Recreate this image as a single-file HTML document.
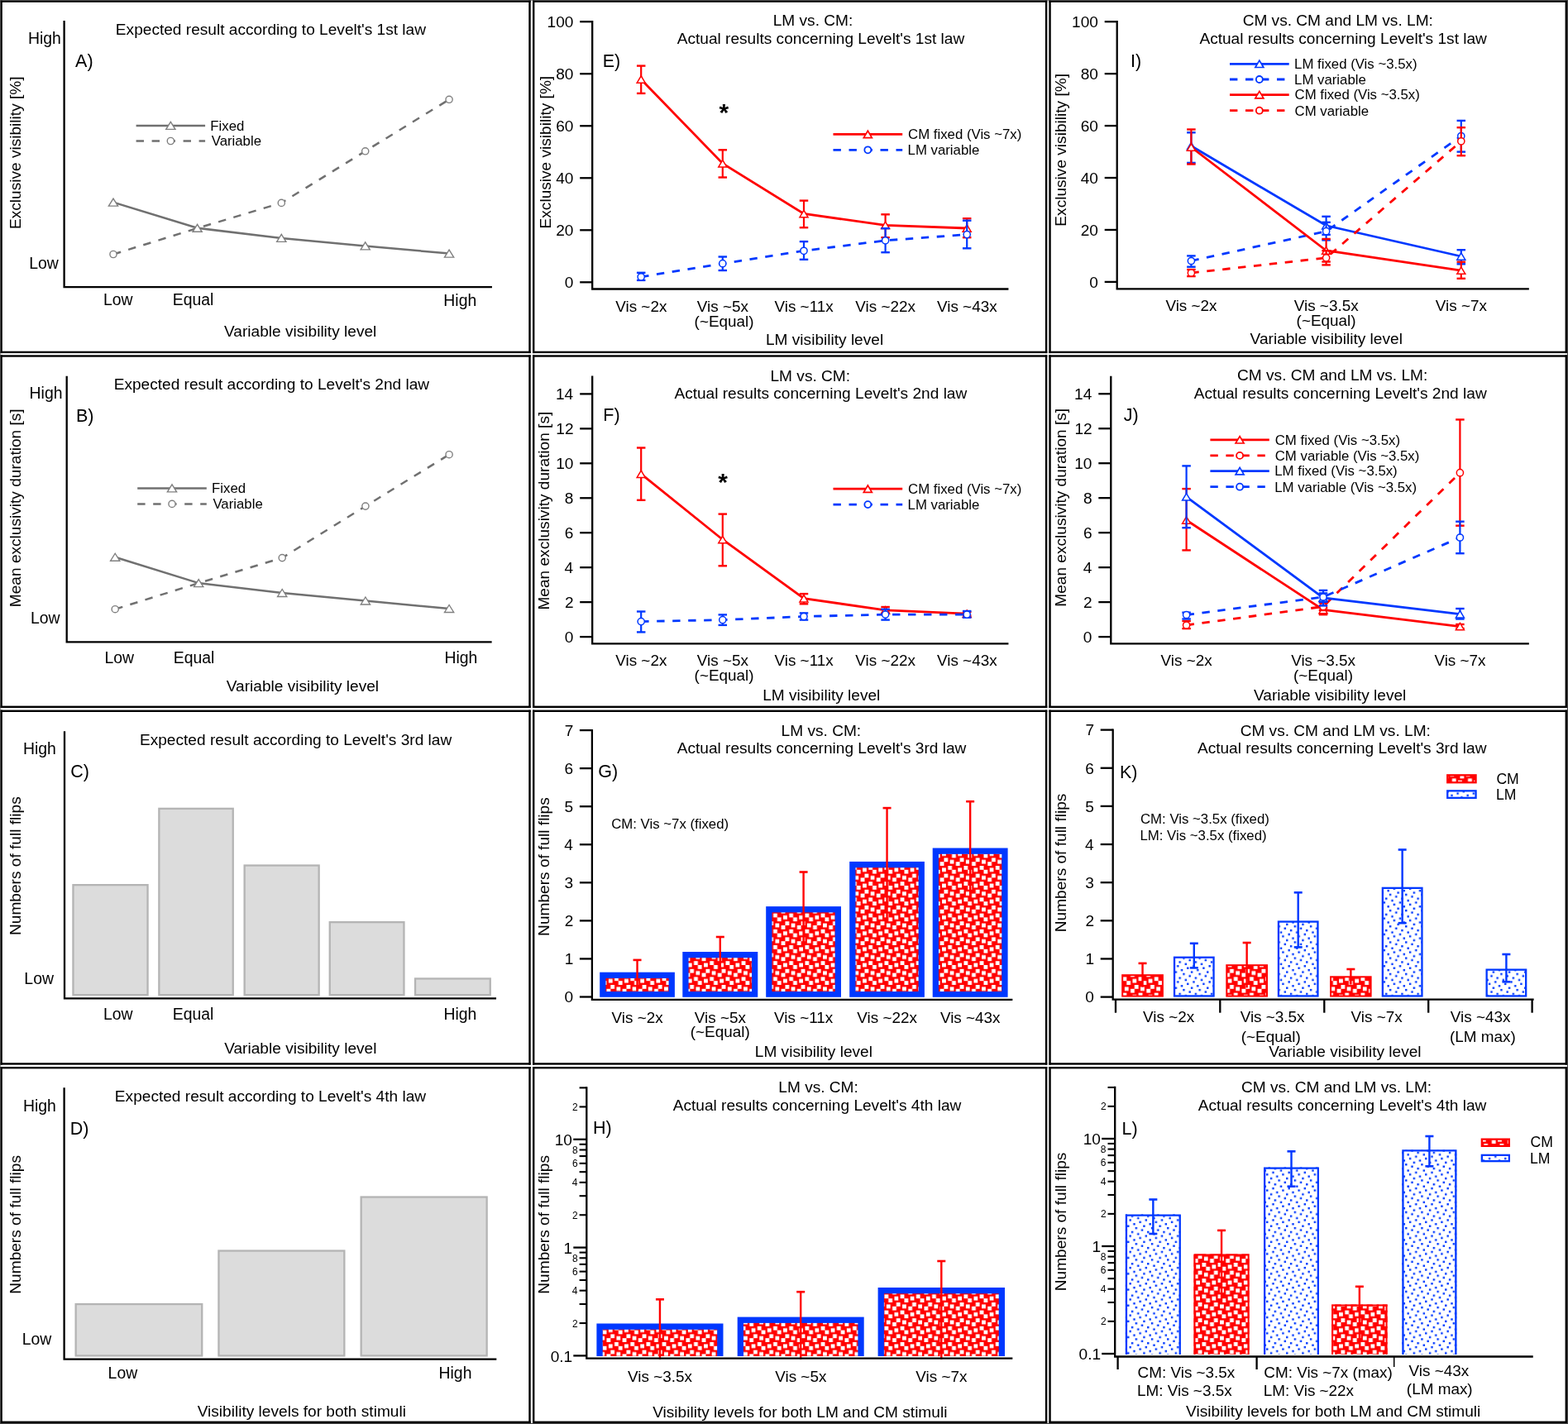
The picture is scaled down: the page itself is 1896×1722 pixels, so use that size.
<!DOCTYPE html>
<html><head><meta charset="utf-8"><title>Levelt laws figure</title><style>html,body{margin:0;padding:0;background:#fff;overflow:hidden}svg{display:block}</style></head><body>
<svg xmlns="http://www.w3.org/2000/svg" width="1896" height="1722" viewBox="0 0 1896 1722" font-family="'Liberation Sans', Arial, Helvetica, sans-serif"><rect width="1896" height="1722" fill="#fff"/>
<defs><pattern id="pr" patternUnits="userSpaceOnUse" x="846.26" y="1162.2" width="19.20" height="19.20"><rect width="19.20" height="19.20" fill="#ff0000"/><rect x="4.80" y="2.40" width="4.80" height="4.80" fill="#fff"/><rect x="12.00" y="0.00" width="4.80" height="4.80" fill="#fff"/><rect x="16.80" y="4.80" width="4.80" height="4.80" fill="#fff"/><rect x="-2.40" y="4.80" width="4.80" height="4.80" fill="#fff"/><rect x="7.20" y="9.60" width="4.80" height="4.80" fill="#fff"/><rect x="14.40" y="12.00" width="4.80" height="4.80" fill="#fff"/><rect x="2.40" y="14.40" width="4.80" height="4.80" fill="#fff"/></pattern><pattern id="pb" patternUnits="userSpaceOnUse" x="1430.27" y="1157.50" width="19.20" height="19.20"><rect width="19.20" height="19.20" fill="#fff"/><rect x="0.00" y="0.00" width="2.40" height="2.40" fill="#0038ff"/><rect x="7.20" y="2.40" width="2.40" height="2.40" fill="#0038ff"/><rect x="14.40" y="4.80" width="2.40" height="2.40" fill="#0038ff"/><rect x="2.40" y="7.20" width="2.40" height="2.40" fill="#0038ff"/><rect x="12.00" y="9.60" width="2.40" height="2.40" fill="#0038ff"/><rect x="4.80" y="12.00" width="2.40" height="2.40" fill="#0038ff"/><rect x="16.80" y="14.40" width="2.40" height="2.40" fill="#0038ff"/><rect x="-2.40" y="14.40" width="2.40" height="2.40" fill="#0038ff"/><rect x="9.60" y="16.80" width="2.40" height="2.40" fill="#0038ff"/><rect x="9.60" y="-2.40" width="2.40" height="2.40" fill="#0038ff"/></pattern></defs>
<polyline points="77.60,26.20 77.60,347.20 593.80,347.20" fill="none" stroke="#000" stroke-width="2.30" stroke-linejoin="miter" stroke-linecap="square"/>
<text x="139.87" y="41.90" font-size="19.10">Expected result according to Levelt's 1st law</text>
<text x="91.10" y="81.00" font-size="21.50">A)</text>
<text x="33.89" y="53.20" font-size="19.40">High</text>
<text x="35.26" y="324.70" font-size="19.40">Low</text>
<text transform="translate(25.00 184.60) rotate(-90)" x="-92.45" y="0" font-size="19.10">Exclusive visibility [%]</text>
<polyline points="137.00,307.50 238.60,276.00 340.30,245.40 441.70,182.80 543.10,120.30" fill="none" stroke="#707070" stroke-width="2.50" stroke-dasharray="9.5 9.5"/>
<polyline points="137.00,244.60 238.60,275.80 340.30,287.90 441.70,297.40 543.10,306.60" fill="none" stroke="#707070" stroke-width="2.50"/>
<circle cx="137.00" cy="307.50" r="4.10" fill="#fff" stroke="#808080" stroke-width="1.40"/>
<circle cx="340.30" cy="245.40" r="4.10" fill="#fff" stroke="#808080" stroke-width="1.40"/>
<circle cx="441.70" cy="182.80" r="4.10" fill="#fff" stroke="#808080" stroke-width="1.40"/>
<circle cx="543.10" cy="120.30" r="4.10" fill="#fff" stroke="#808080" stroke-width="1.40"/>
<polygon points="131.40,249.10 142.60,249.10 137.00,240.10" fill="#fff" stroke="#808080" stroke-width="1.40" stroke-linejoin="miter"/>
<polygon points="233.00,280.30 244.20,280.30 238.60,271.30" fill="#fff" stroke="#808080" stroke-width="1.40" stroke-linejoin="miter"/>
<polygon points="334.70,292.40 345.90,292.40 340.30,283.40" fill="#fff" stroke="#808080" stroke-width="1.40" stroke-linejoin="miter"/>
<polygon points="436.10,301.90 447.30,301.90 441.70,292.90" fill="#fff" stroke="#808080" stroke-width="1.40" stroke-linejoin="miter"/>
<polygon points="537.50,311.10 548.70,311.10 543.10,302.10" fill="#fff" stroke="#808080" stroke-width="1.40" stroke-linejoin="miter"/>
<line x1="164.60" y1="151.90" x2="248.10" y2="151.90" stroke="#707070" stroke-width="2.50"/>
<line x1="164.60" y1="170.50" x2="248.10" y2="170.50" stroke="#707070" stroke-width="2.50" stroke-dasharray="9.4 9.6"/>
<polygon points="200.75,156.40 211.95,156.40 206.35,147.40" fill="#fff" stroke="#808080" stroke-width="1.40" stroke-linejoin="miter"/>
<circle cx="206.35" cy="170.50" r="4.10" fill="#fff" stroke="#808080" stroke-width="1.40"/>
<text x="254.36" y="157.70" font-size="16.80">Fixed</text>
<text x="255.70" y="176.30" font-size="16.80">Variable</text>
<text x="124.90" y="369.40" font-size="19.40">Low</text>
<text x="208.72" y="369.40" font-size="19.40">Equal</text>
<text x="536.37" y="369.80" font-size="19.40">High</text>
<text x="271.00" y="406.60" font-size="19.10">Variable visibility level</text>
<polyline points="80.70,455.80 80.70,776.30 593.50,776.30" fill="none" stroke="#000" stroke-width="2.30" stroke-linejoin="miter" stroke-linecap="square"/>
<text x="137.67" y="471.00" font-size="19.10">Expected result according to Levelt's 2nd law</text>
<text x="91.98" y="509.90" font-size="21.50">B)</text>
<text x="35.59" y="482.00" font-size="19.40">High</text>
<text x="36.96" y="753.50" font-size="19.40">Low</text>
<text transform="translate(25.00 614.10) rotate(-90)" x="-120.07" y="0" font-size="19.10">Mean exclusivity duration [s]</text>
<polyline points="139.20,736.70 240.20,705.10 341.20,674.60 441.90,612.10 543.10,549.70" fill="none" stroke="#707070" stroke-width="2.50" stroke-dasharray="9.5 9.5"/>
<polyline points="139.20,673.70 240.20,705.10 341.20,717.00 441.90,726.50 543.10,736.00" fill="none" stroke="#707070" stroke-width="2.50"/>
<circle cx="139.20" cy="736.70" r="4.10" fill="#fff" stroke="#808080" stroke-width="1.40"/>
<circle cx="341.20" cy="674.60" r="4.10" fill="#fff" stroke="#808080" stroke-width="1.40"/>
<circle cx="441.90" cy="612.10" r="4.10" fill="#fff" stroke="#808080" stroke-width="1.40"/>
<circle cx="543.10" cy="549.70" r="4.10" fill="#fff" stroke="#808080" stroke-width="1.40"/>
<polygon points="133.60,678.20 144.80,678.20 139.20,669.20" fill="#fff" stroke="#808080" stroke-width="1.40" stroke-linejoin="miter"/>
<polygon points="234.60,709.60 245.80,709.60 240.20,700.60" fill="#fff" stroke="#808080" stroke-width="1.40" stroke-linejoin="miter"/>
<polygon points="335.60,721.50 346.80,721.50 341.20,712.50" fill="#fff" stroke="#808080" stroke-width="1.40" stroke-linejoin="miter"/>
<polygon points="436.30,731.00 447.50,731.00 441.90,722.00" fill="#fff" stroke="#808080" stroke-width="1.40" stroke-linejoin="miter"/>
<polygon points="537.50,740.50 548.70,740.50 543.10,731.50" fill="#fff" stroke="#808080" stroke-width="1.40" stroke-linejoin="miter"/>
<line x1="166.20" y1="590.40" x2="249.80" y2="590.40" stroke="#707070" stroke-width="2.50"/>
<line x1="166.20" y1="609.40" x2="249.80" y2="609.40" stroke="#707070" stroke-width="2.50" stroke-dasharray="9.4 9.6"/>
<polygon points="202.40,594.90 213.60,594.90 208.00,585.90" fill="#fff" stroke="#808080" stroke-width="1.40" stroke-linejoin="miter"/>
<circle cx="208.00" cy="609.40" r="4.10" fill="#fff" stroke="#808080" stroke-width="1.40"/>
<text x="256.06" y="596.20" font-size="16.80">Fixed</text>
<text x="257.40" y="615.20" font-size="16.80">Variable</text>
<text x="126.40" y="801.60" font-size="19.40">Low</text>
<text x="209.82" y="801.60" font-size="19.40">Equal</text>
<text x="537.47" y="801.50" font-size="19.40">High</text>
<text x="273.80" y="836.20" font-size="19.10">Variable visibility level</text>
<rect x="88.45" y="1070.15" width="90.10" height="133.00" fill="#dcdcdc" stroke="#b4b4b4" stroke-width="2.30"/>
<rect x="192.35" y="977.85" width="89.40" height="225.30" fill="#dcdcdc" stroke="#b4b4b4" stroke-width="2.30"/>
<rect x="295.65" y="1046.55" width="90.00" height="156.60" fill="#dcdcdc" stroke="#b4b4b4" stroke-width="2.30"/>
<rect x="398.75" y="1115.15" width="89.70" height="88.00" fill="#dcdcdc" stroke="#b4b4b4" stroke-width="2.30"/>
<rect x="502.05" y="1183.45" width="90.70" height="19.70" fill="#dcdcdc" stroke="#b4b4b4" stroke-width="2.30"/>
<polyline points="78.00,885.50 78.00,1207.40 598.90,1207.40" fill="none" stroke="#000" stroke-width="2.30" stroke-linejoin="miter" stroke-linecap="square"/>
<text x="168.97" y="900.70" font-size="19.10">Expected result according to Levelt's 3rd law</text>
<text x="85.33" y="939.50" font-size="21.50">C)</text>
<text x="27.99" y="911.70" font-size="19.40">High</text>
<text x="29.36" y="1190.00" font-size="19.40">Low</text>
<text transform="translate(25.00 1046.70) rotate(-90)" x="-84.29" y="0" font-size="19.10">Numbers of full flips</text>
<text x="125.00" y="1233.00" font-size="19.40">Low</text>
<text x="208.82" y="1233.00" font-size="19.40">Equal</text>
<text x="536.47" y="1232.70" font-size="19.40">High</text>
<text x="271.20" y="1274.40" font-size="19.10">Variable visibility level</text>
<rect x="91.65" y="1577.05" width="152.60" height="62.40" fill="#dcdcdc" stroke="#b4b4b4" stroke-width="2.30"/>
<rect x="264.45" y="1512.55" width="151.90" height="126.90" fill="#dcdcdc" stroke="#b4b4b4" stroke-width="2.30"/>
<rect x="436.65" y="1447.55" width="152.00" height="191.90" fill="#dcdcdc" stroke="#b4b4b4" stroke-width="2.30"/>
<polyline points="77.60,1316.40 77.60,1643.60 599.20,1643.60" fill="none" stroke="#000" stroke-width="2.30" stroke-linejoin="miter" stroke-linecap="square"/>
<text x="138.87" y="1331.90" font-size="19.10">Expected result according to Levelt's 4th law</text>
<text x="84.68" y="1372.10" font-size="21.50">D)</text>
<text x="27.99" y="1343.70" font-size="19.40">High</text>
<text x="26.76" y="1625.50" font-size="19.40">Low</text>
<text transform="translate(25.00 1480.40) rotate(-90)" x="-84.29" y="0" font-size="19.10">Numbers of full flips</text>
<text x="130.60" y="1667.00" font-size="19.40">Low</text>
<text x="530.57" y="1667.00" font-size="19.40">High</text>
<text x="238.70" y="1713.30" font-size="19.10">Visibility levels for both stimuli</text>
<polyline points="716.20,26.20 716.20,349.50 1218.30,349.50" fill="none" stroke="#000" stroke-width="2.30" stroke-linejoin="miter" stroke-linecap="square"/>
<line x1="701.20" y1="341.30" x2="716.20" y2="341.30" stroke="#000" stroke-width="2.30"/>
<text x="682.77" y="348.14" font-size="19.10">0</text>
<line x1="701.20" y1="278.28" x2="716.20" y2="278.28" stroke="#000" stroke-width="2.30"/>
<text x="672.15" y="285.12" font-size="19.10">20</text>
<line x1="701.20" y1="215.26" x2="716.20" y2="215.26" stroke="#000" stroke-width="2.30"/>
<text x="672.15" y="222.10" font-size="19.10">40</text>
<line x1="701.20" y1="152.24" x2="716.20" y2="152.24" stroke="#000" stroke-width="2.30"/>
<text x="672.15" y="159.08" font-size="19.10">60</text>
<line x1="701.20" y1="89.22" x2="716.20" y2="89.22" stroke="#000" stroke-width="2.30"/>
<text x="672.15" y="96.06" font-size="19.10">80</text>
<line x1="701.20" y1="26.20" x2="716.20" y2="26.20" stroke="#000" stroke-width="2.30"/>
<text x="661.52" y="33.04" font-size="19.10">100</text>
<text transform="translate(666.30 184.00) rotate(-90)" x="-92.45" y="0" font-size="19.10">Exclusive visibility [%]</text>
<text x="934.71" y="31.20" font-size="19.10">LM vs. CM:</text>
<text x="818.70" y="52.50" font-size="19.10">Actual results concerning Levelt's 1st law</text>
<text x="728.78" y="80.70" font-size="21.50">E)</text>
<line x1="775.20" y1="79.60" x2="775.20" y2="112.90" stroke="#ff0000" stroke-width="2.20"/>
<line x1="769.95" y1="79.60" x2="780.45" y2="79.60" stroke="#ff0000" stroke-width="2.40"/>
<line x1="769.95" y1="112.90" x2="780.45" y2="112.90" stroke="#ff0000" stroke-width="2.40"/>
<line x1="873.80" y1="181.30" x2="873.80" y2="214.50" stroke="#ff0000" stroke-width="2.20"/>
<line x1="868.55" y1="181.30" x2="879.05" y2="181.30" stroke="#ff0000" stroke-width="2.40"/>
<line x1="868.55" y1="214.50" x2="879.05" y2="214.50" stroke="#ff0000" stroke-width="2.40"/>
<line x1="972.00" y1="242.60" x2="972.00" y2="275.20" stroke="#ff0000" stroke-width="2.20"/>
<line x1="966.75" y1="242.60" x2="977.25" y2="242.60" stroke="#ff0000" stroke-width="2.40"/>
<line x1="966.75" y1="275.20" x2="977.25" y2="275.20" stroke="#ff0000" stroke-width="2.40"/>
<line x1="1070.60" y1="259.30" x2="1070.60" y2="287.20" stroke="#ff0000" stroke-width="2.20"/>
<line x1="1065.35" y1="259.30" x2="1075.85" y2="259.30" stroke="#ff0000" stroke-width="2.40"/>
<line x1="1065.35" y1="287.20" x2="1075.85" y2="287.20" stroke="#ff0000" stroke-width="2.40"/>
<line x1="1169.20" y1="264.20" x2="1169.20" y2="287.20" stroke="#ff0000" stroke-width="2.20"/>
<line x1="1163.95" y1="264.20" x2="1174.45" y2="264.20" stroke="#ff0000" stroke-width="2.40"/>
<line x1="1163.95" y1="287.20" x2="1174.45" y2="287.20" stroke="#ff0000" stroke-width="2.40"/>
<polyline points="775.20,96.00 873.80,197.70 972.00,258.50 1070.60,272.40 1169.20,276.00" fill="none" stroke="#ff0000" stroke-width="2.80"/>
<polygon points="770.20,100.20 780.20,100.20 775.20,91.80" fill="#fff" stroke="#ff0000" stroke-width="1.50" stroke-linejoin="miter"/>
<polygon points="868.80,201.90 878.80,201.90 873.80,193.50" fill="#fff" stroke="#ff0000" stroke-width="1.50" stroke-linejoin="miter"/>
<polygon points="967.00,262.70 977.00,262.70 972.00,254.30" fill="#fff" stroke="#ff0000" stroke-width="1.50" stroke-linejoin="miter"/>
<polygon points="1065.60,276.60 1075.60,276.60 1070.60,268.20" fill="#fff" stroke="#ff0000" stroke-width="1.50" stroke-linejoin="miter"/>
<polygon points="1164.20,280.20 1174.20,280.20 1169.20,271.80" fill="#fff" stroke="#ff0000" stroke-width="1.50" stroke-linejoin="miter"/>
<line x1="775.20" y1="329.80" x2="775.20" y2="338.90" stroke="#0038ff" stroke-width="2.20"/>
<line x1="769.95" y1="329.80" x2="780.45" y2="329.80" stroke="#0038ff" stroke-width="2.40"/>
<line x1="769.95" y1="338.90" x2="780.45" y2="338.90" stroke="#0038ff" stroke-width="2.40"/>
<line x1="873.80" y1="310.50" x2="873.80" y2="327.00" stroke="#0038ff" stroke-width="2.20"/>
<line x1="868.55" y1="310.50" x2="879.05" y2="310.50" stroke="#0038ff" stroke-width="2.40"/>
<line x1="868.55" y1="327.00" x2="879.05" y2="327.00" stroke="#0038ff" stroke-width="2.40"/>
<line x1="972.00" y1="292.10" x2="972.00" y2="313.80" stroke="#0038ff" stroke-width="2.20"/>
<line x1="966.75" y1="292.10" x2="977.25" y2="292.10" stroke="#0038ff" stroke-width="2.40"/>
<line x1="966.75" y1="313.80" x2="977.25" y2="313.80" stroke="#0038ff" stroke-width="2.40"/>
<line x1="1070.60" y1="276.20" x2="1070.60" y2="305.20" stroke="#0038ff" stroke-width="2.20"/>
<line x1="1065.35" y1="276.20" x2="1075.85" y2="276.20" stroke="#0038ff" stroke-width="2.40"/>
<line x1="1065.35" y1="305.20" x2="1075.85" y2="305.20" stroke="#0038ff" stroke-width="2.40"/>
<line x1="1169.20" y1="266.70" x2="1169.20" y2="300.30" stroke="#0038ff" stroke-width="2.20"/>
<line x1="1163.95" y1="266.70" x2="1174.45" y2="266.70" stroke="#0038ff" stroke-width="2.40"/>
<line x1="1163.95" y1="300.30" x2="1174.45" y2="300.30" stroke="#0038ff" stroke-width="2.40"/>
<polyline points="775.20,334.80 873.80,318.70 972.00,303.30 1070.60,290.80 1169.20,283.60" fill="none" stroke="#0038ff" stroke-width="2.80" stroke-dasharray="9.4 9.6"/>
<circle cx="775.20" cy="334.80" r="4.10" fill="#fff" stroke="#0038ff" stroke-width="1.50"/>
<circle cx="873.80" cy="318.70" r="4.10" fill="#fff" stroke="#0038ff" stroke-width="1.50"/>
<circle cx="972.00" cy="303.30" r="4.10" fill="#fff" stroke="#0038ff" stroke-width="1.50"/>
<circle cx="1070.60" cy="290.80" r="4.10" fill="#fff" stroke="#0038ff" stroke-width="1.50"/>
<circle cx="1169.20" cy="283.60" r="4.10" fill="#fff" stroke="#0038ff" stroke-width="1.50"/>
<text x="869.45" y="146.00" font-size="30.00" font-weight="bold">*</text>
<line x1="1007.50" y1="162.40" x2="1091.20" y2="162.40" stroke="#ff0000" stroke-width="2.80"/>
<polygon points="1044.35,166.60 1054.35,166.60 1049.35,158.20" fill="#fff" stroke="#ff0000" stroke-width="1.70" stroke-linejoin="miter"/>
<text x="1098.06" y="168.20" font-size="16.80">CM fixed (Vis ~7x)</text>
<line x1="1007.50" y1="181.30" x2="1091.20" y2="181.30" stroke="#0038ff" stroke-width="2.80" stroke-dasharray="9.4 9.6"/>
<circle cx="1049.35" cy="181.30" r="4.00" fill="#fff" stroke="#0038ff" stroke-width="1.80"/>
<text x="1097.56" y="187.10" font-size="16.80">LM variable</text>
<text x="744.21" y="376.60" font-size="18.90">Vis ~2x</text>
<text x="842.81" y="376.60" font-size="18.90">Vis ~5x</text>
<text x="936.46" y="376.60" font-size="18.90">Vis ~11x</text>
<text x="1034.36" y="376.60" font-size="18.90">Vis ~22x</text>
<text x="1132.96" y="376.60" font-size="18.90">Vis ~43x</text>
<text x="839.60" y="394.60" font-size="18.90">(~Equal)</text>
<text x="925.97" y="416.80" font-size="19.10">LM visibility level</text>
<polyline points="716.20,455.60 716.20,778.30 1218.30,778.30" fill="none" stroke="#000" stroke-width="2.30" stroke-linejoin="miter" stroke-linecap="square"/>
<line x1="701.20" y1="770.10" x2="716.20" y2="770.10" stroke="#000" stroke-width="2.30"/>
<text x="682.77" y="776.94" font-size="19.10">0</text>
<line x1="701.20" y1="728.14" x2="716.20" y2="728.14" stroke="#000" stroke-width="2.30"/>
<text x="682.96" y="734.98" font-size="19.10">2</text>
<line x1="701.20" y1="686.18" x2="716.20" y2="686.18" stroke="#000" stroke-width="2.30"/>
<text x="682.58" y="693.02" font-size="19.10">4</text>
<line x1="701.20" y1="644.22" x2="716.20" y2="644.22" stroke="#000" stroke-width="2.30"/>
<text x="682.86" y="651.06" font-size="19.10">6</text>
<line x1="701.20" y1="602.26" x2="716.20" y2="602.26" stroke="#000" stroke-width="2.30"/>
<text x="682.86" y="609.10" font-size="19.10">8</text>
<line x1="701.20" y1="560.30" x2="716.20" y2="560.30" stroke="#000" stroke-width="2.30"/>
<text x="672.15" y="567.14" font-size="19.10">10</text>
<line x1="701.20" y1="518.34" x2="716.20" y2="518.34" stroke="#000" stroke-width="2.30"/>
<text x="672.34" y="525.18" font-size="19.10">12</text>
<line x1="701.20" y1="476.38" x2="716.20" y2="476.38" stroke="#000" stroke-width="2.30"/>
<text x="671.95" y="483.22" font-size="19.10">14</text>
<text transform="translate(663.70 617.50) rotate(-90)" x="-120.07" y="0" font-size="19.10">Mean exclusivity duration [s]</text>
<text x="931.51" y="460.80" font-size="19.10">LM vs. CM:</text>
<text x="815.40" y="481.80" font-size="19.10">Actual results concerning Levelt's 2nd law</text>
<text x="729.28" y="509.20" font-size="21.50">F)</text>
<line x1="775.20" y1="541.50" x2="775.20" y2="604.80" stroke="#ff0000" stroke-width="2.20"/>
<line x1="769.95" y1="541.50" x2="780.45" y2="541.50" stroke="#ff0000" stroke-width="2.40"/>
<line x1="769.95" y1="604.80" x2="780.45" y2="604.80" stroke="#ff0000" stroke-width="2.40"/>
<line x1="873.80" y1="621.60" x2="873.80" y2="684.30" stroke="#ff0000" stroke-width="2.20"/>
<line x1="868.55" y1="621.60" x2="879.05" y2="621.60" stroke="#ff0000" stroke-width="2.40"/>
<line x1="868.55" y1="684.30" x2="879.05" y2="684.30" stroke="#ff0000" stroke-width="2.40"/>
<line x1="972.00" y1="718.10" x2="972.00" y2="730.30" stroke="#ff0000" stroke-width="2.20"/>
<line x1="966.75" y1="718.10" x2="977.25" y2="718.10" stroke="#ff0000" stroke-width="2.40"/>
<line x1="966.75" y1="730.30" x2="977.25" y2="730.30" stroke="#ff0000" stroke-width="2.40"/>
<line x1="1070.60" y1="734.00" x2="1070.60" y2="741.60" stroke="#ff0000" stroke-width="2.20"/>
<line x1="1065.35" y1="734.00" x2="1075.85" y2="734.00" stroke="#ff0000" stroke-width="2.40"/>
<line x1="1065.35" y1="741.60" x2="1075.85" y2="741.60" stroke="#ff0000" stroke-width="2.40"/>
<line x1="1169.20" y1="740.00" x2="1169.20" y2="744.40" stroke="#ff0000" stroke-width="2.20"/>
<line x1="1163.95" y1="740.00" x2="1174.45" y2="740.00" stroke="#ff0000" stroke-width="2.40"/>
<line x1="1163.95" y1="744.40" x2="1174.45" y2="744.40" stroke="#ff0000" stroke-width="2.40"/>
<polyline points="775.20,573.20 873.80,652.50 972.00,723.70 1070.60,737.80 1169.20,742.20" fill="none" stroke="#ff0000" stroke-width="2.80"/>
<polygon points="770.20,577.40 780.20,577.40 775.20,569.00" fill="#fff" stroke="#ff0000" stroke-width="1.50" stroke-linejoin="miter"/>
<polygon points="868.80,656.70 878.80,656.70 873.80,648.30" fill="#fff" stroke="#ff0000" stroke-width="1.50" stroke-linejoin="miter"/>
<polygon points="967.00,727.90 977.00,727.90 972.00,719.50" fill="#fff" stroke="#ff0000" stroke-width="1.50" stroke-linejoin="miter"/>
<polygon points="1065.60,742.00 1075.60,742.00 1070.60,733.60" fill="#fff" stroke="#ff0000" stroke-width="1.50" stroke-linejoin="miter"/>
<polygon points="1164.20,746.40 1174.20,746.40 1169.20,738.00" fill="#fff" stroke="#ff0000" stroke-width="1.50" stroke-linejoin="miter"/>
<line x1="775.20" y1="739.50" x2="775.20" y2="764.40" stroke="#0038ff" stroke-width="2.20"/>
<line x1="769.95" y1="739.50" x2="780.45" y2="739.50" stroke="#0038ff" stroke-width="2.40"/>
<line x1="769.95" y1="764.40" x2="780.45" y2="764.40" stroke="#0038ff" stroke-width="2.40"/>
<line x1="873.80" y1="743.40" x2="873.80" y2="755.90" stroke="#0038ff" stroke-width="2.20"/>
<line x1="868.55" y1="743.40" x2="879.05" y2="743.40" stroke="#0038ff" stroke-width="2.40"/>
<line x1="868.55" y1="755.90" x2="879.05" y2="755.90" stroke="#0038ff" stroke-width="2.40"/>
<line x1="972.00" y1="741.40" x2="972.00" y2="749.60" stroke="#0038ff" stroke-width="2.20"/>
<line x1="966.75" y1="741.40" x2="977.25" y2="741.40" stroke="#0038ff" stroke-width="2.40"/>
<line x1="966.75" y1="749.60" x2="977.25" y2="749.60" stroke="#0038ff" stroke-width="2.40"/>
<line x1="1070.60" y1="736.80" x2="1070.60" y2="749.60" stroke="#0038ff" stroke-width="2.20"/>
<line x1="1065.35" y1="736.80" x2="1075.85" y2="736.80" stroke="#0038ff" stroke-width="2.40"/>
<line x1="1065.35" y1="749.60" x2="1075.85" y2="749.60" stroke="#0038ff" stroke-width="2.40"/>
<line x1="1169.20" y1="739.00" x2="1169.20" y2="746.70" stroke="#0038ff" stroke-width="2.20"/>
<line x1="1163.95" y1="739.00" x2="1174.45" y2="739.00" stroke="#0038ff" stroke-width="2.40"/>
<line x1="1163.95" y1="746.70" x2="1174.45" y2="746.70" stroke="#0038ff" stroke-width="2.40"/>
<polyline points="775.20,751.60 873.80,749.60 972.00,745.50 1070.60,743.10 1169.20,743.10" fill="none" stroke="#0038ff" stroke-width="2.80" stroke-dasharray="9.4 9.6"/>
<circle cx="775.20" cy="751.60" r="4.10" fill="#fff" stroke="#0038ff" stroke-width="1.50"/>
<circle cx="873.80" cy="749.60" r="4.10" fill="#fff" stroke="#0038ff" stroke-width="1.50"/>
<circle cx="972.00" cy="745.50" r="4.10" fill="#fff" stroke="#0038ff" stroke-width="1.50"/>
<circle cx="1070.60" cy="743.10" r="4.10" fill="#fff" stroke="#0038ff" stroke-width="1.50"/>
<circle cx="1169.20" cy="743.10" r="4.10" fill="#fff" stroke="#0038ff" stroke-width="1.50"/>
<text x="868.35" y="593.00" font-size="30.00" font-weight="bold">*</text>
<line x1="1007.50" y1="591.20" x2="1091.20" y2="591.20" stroke="#ff0000" stroke-width="2.80"/>
<polygon points="1044.35,595.40 1054.35,595.40 1049.35,587.00" fill="#fff" stroke="#ff0000" stroke-width="1.70" stroke-linejoin="miter"/>
<text x="1098.06" y="597.00" font-size="16.80">CM fixed (Vis ~7x)</text>
<line x1="1007.50" y1="610.10" x2="1091.20" y2="610.10" stroke="#0038ff" stroke-width="2.80" stroke-dasharray="9.4 9.6"/>
<circle cx="1049.35" cy="610.10" r="4.00" fill="#fff" stroke="#0038ff" stroke-width="1.80"/>
<text x="1097.56" y="615.90" font-size="16.80">LM variable</text>
<text x="744.21" y="805.40" font-size="18.90">Vis ~2x</text>
<text x="842.81" y="805.40" font-size="18.90">Vis ~5x</text>
<text x="936.46" y="805.40" font-size="18.90">Vis ~11x</text>
<text x="1034.36" y="805.40" font-size="18.90">Vis ~22x</text>
<text x="1132.96" y="805.40" font-size="18.90">Vis ~43x</text>
<text x="839.60" y="823.40" font-size="18.90">(~Equal)</text>
<text x="922.17" y="847.20" font-size="19.10">LM visibility level</text>
<polyline points="1350.70,26.20 1350.70,349.40 1847.70,349.40" fill="none" stroke="#000" stroke-width="2.30" stroke-linejoin="miter" stroke-linecap="square"/>
<line x1="1335.70" y1="340.90" x2="1350.70" y2="340.90" stroke="#000" stroke-width="2.30"/>
<text x="1317.27" y="347.74" font-size="19.10">0</text>
<line x1="1335.70" y1="277.96" x2="1350.70" y2="277.96" stroke="#000" stroke-width="2.30"/>
<text x="1306.65" y="284.80" font-size="19.10">20</text>
<line x1="1335.70" y1="215.02" x2="1350.70" y2="215.02" stroke="#000" stroke-width="2.30"/>
<text x="1306.65" y="221.86" font-size="19.10">40</text>
<line x1="1335.70" y1="152.08" x2="1350.70" y2="152.08" stroke="#000" stroke-width="2.30"/>
<text x="1306.65" y="158.92" font-size="19.10">60</text>
<line x1="1335.70" y1="89.14" x2="1350.70" y2="89.14" stroke="#000" stroke-width="2.30"/>
<text x="1306.65" y="95.98" font-size="19.10">80</text>
<line x1="1335.70" y1="26.20" x2="1350.70" y2="26.20" stroke="#000" stroke-width="2.30"/>
<text x="1296.02" y="33.04" font-size="19.10">100</text>
<text transform="translate(1288.50 181.20) rotate(-90)" x="-92.45" y="0" font-size="19.10">Exclusive visibility [%]</text>
<text x="1502.64" y="31.00" font-size="19.10">CM vs. CM and LM vs. LM:</text>
<text x="1450.40" y="52.50" font-size="19.10">Actual results concerning Levelt's 1st law</text>
<text x="1367.07" y="80.90" font-size="21.50">I)</text>
<line x1="1440.40" y1="160.30" x2="1440.40" y2="196.90" stroke="#0038ff" stroke-width="2.20"/>
<line x1="1435.15" y1="160.30" x2="1445.65" y2="160.30" stroke="#0038ff" stroke-width="2.40"/>
<line x1="1435.15" y1="196.90" x2="1445.65" y2="196.90" stroke="#0038ff" stroke-width="2.40"/>
<line x1="1603.60" y1="261.80" x2="1603.60" y2="283.80" stroke="#0038ff" stroke-width="2.20"/>
<line x1="1598.35" y1="261.80" x2="1608.85" y2="261.80" stroke="#0038ff" stroke-width="2.40"/>
<line x1="1598.35" y1="283.80" x2="1608.85" y2="283.80" stroke="#0038ff" stroke-width="2.40"/>
<line x1="1766.80" y1="302.20" x2="1766.80" y2="319.30" stroke="#0038ff" stroke-width="2.20"/>
<line x1="1761.55" y1="302.20" x2="1772.05" y2="302.20" stroke="#0038ff" stroke-width="2.40"/>
<line x1="1761.55" y1="319.30" x2="1772.05" y2="319.30" stroke="#0038ff" stroke-width="2.40"/>
<polyline points="1440.40,176.50 1603.60,272.80 1766.80,310.00" fill="none" stroke="#0038ff" stroke-width="2.80"/>
<polygon points="1435.40,180.70 1445.40,180.70 1440.40,172.30" fill="#fff" stroke="#0038ff" stroke-width="1.50" stroke-linejoin="miter"/>
<polygon points="1598.60,277.00 1608.60,277.00 1603.60,268.60" fill="#fff" stroke="#0038ff" stroke-width="1.50" stroke-linejoin="miter"/>
<polygon points="1761.80,314.20 1771.80,314.20 1766.80,305.80" fill="#fff" stroke="#0038ff" stroke-width="1.50" stroke-linejoin="miter"/>
<line x1="1440.40" y1="309.40" x2="1440.40" y2="322.70" stroke="#0038ff" stroke-width="2.20"/>
<line x1="1435.15" y1="309.40" x2="1445.65" y2="309.40" stroke="#0038ff" stroke-width="2.40"/>
<line x1="1435.15" y1="322.70" x2="1445.65" y2="322.70" stroke="#0038ff" stroke-width="2.40"/>
<line x1="1603.60" y1="268.80" x2="1603.60" y2="290.40" stroke="#0038ff" stroke-width="2.20"/>
<line x1="1598.35" y1="268.80" x2="1608.85" y2="268.80" stroke="#0038ff" stroke-width="2.40"/>
<line x1="1598.35" y1="290.40" x2="1608.85" y2="290.40" stroke="#0038ff" stroke-width="2.40"/>
<line x1="1766.80" y1="145.90" x2="1766.80" y2="183.60" stroke="#0038ff" stroke-width="2.20"/>
<line x1="1761.55" y1="145.90" x2="1772.05" y2="145.90" stroke="#0038ff" stroke-width="2.40"/>
<line x1="1761.55" y1="183.60" x2="1772.05" y2="183.60" stroke="#0038ff" stroke-width="2.40"/>
<polyline points="1440.40,315.50 1603.60,279.70 1766.80,164.50" fill="none" stroke="#0038ff" stroke-width="2.80" stroke-dasharray="9.4 9.6"/>
<circle cx="1440.40" cy="315.50" r="4.10" fill="#fff" stroke="#0038ff" stroke-width="1.50"/>
<circle cx="1603.60" cy="279.70" r="4.10" fill="#fff" stroke="#0038ff" stroke-width="1.50"/>
<circle cx="1766.80" cy="164.50" r="4.10" fill="#fff" stroke="#0038ff" stroke-width="1.50"/>
<line x1="1440.40" y1="156.50" x2="1440.40" y2="198.50" stroke="#ff0000" stroke-width="2.20"/>
<line x1="1435.15" y1="156.50" x2="1445.65" y2="156.50" stroke="#ff0000" stroke-width="2.40"/>
<line x1="1435.15" y1="198.50" x2="1445.65" y2="198.50" stroke="#ff0000" stroke-width="2.40"/>
<line x1="1603.60" y1="289.00" x2="1603.60" y2="316.50" stroke="#ff0000" stroke-width="2.20"/>
<line x1="1598.35" y1="289.00" x2="1608.85" y2="289.00" stroke="#ff0000" stroke-width="2.40"/>
<line x1="1598.35" y1="316.50" x2="1608.85" y2="316.50" stroke="#ff0000" stroke-width="2.40"/>
<line x1="1766.80" y1="316.70" x2="1766.80" y2="336.80" stroke="#ff0000" stroke-width="2.20"/>
<line x1="1761.55" y1="316.70" x2="1772.05" y2="316.70" stroke="#ff0000" stroke-width="2.40"/>
<line x1="1761.55" y1="336.80" x2="1772.05" y2="336.80" stroke="#ff0000" stroke-width="2.40"/>
<polyline points="1440.40,178.00 1603.60,303.00 1766.80,327.10" fill="none" stroke="#ff0000" stroke-width="2.80"/>
<polygon points="1435.40,182.20 1445.40,182.20 1440.40,173.80" fill="#fff" stroke="#ff0000" stroke-width="1.50" stroke-linejoin="miter"/>
<polygon points="1598.60,307.20 1608.60,307.20 1603.60,298.80" fill="#fff" stroke="#ff0000" stroke-width="1.50" stroke-linejoin="miter"/>
<polygon points="1761.80,331.30 1771.80,331.30 1766.80,322.90" fill="#fff" stroke="#ff0000" stroke-width="1.50" stroke-linejoin="miter"/>
<line x1="1440.40" y1="326.00" x2="1440.40" y2="334.10" stroke="#ff0000" stroke-width="2.20"/>
<line x1="1435.15" y1="326.00" x2="1445.65" y2="326.00" stroke="#ff0000" stroke-width="2.40"/>
<line x1="1435.15" y1="334.10" x2="1445.65" y2="334.10" stroke="#ff0000" stroke-width="2.40"/>
<line x1="1603.60" y1="303.20" x2="1603.60" y2="320.40" stroke="#ff0000" stroke-width="2.20"/>
<line x1="1598.35" y1="303.20" x2="1608.85" y2="303.20" stroke="#ff0000" stroke-width="2.40"/>
<line x1="1598.35" y1="320.40" x2="1608.85" y2="320.40" stroke="#ff0000" stroke-width="2.40"/>
<line x1="1766.80" y1="154.20" x2="1766.80" y2="188.20" stroke="#ff0000" stroke-width="2.20"/>
<line x1="1761.55" y1="154.20" x2="1772.05" y2="154.20" stroke="#ff0000" stroke-width="2.40"/>
<line x1="1761.55" y1="188.20" x2="1772.05" y2="188.20" stroke="#ff0000" stroke-width="2.40"/>
<polyline points="1440.40,330.00 1603.60,311.80 1766.80,170.80" fill="none" stroke="#ff0000" stroke-width="2.80" stroke-dasharray="9.4 9.6"/>
<circle cx="1440.40" cy="330.00" r="4.10" fill="#fff" stroke="#ff0000" stroke-width="1.50"/>
<circle cx="1603.60" cy="311.80" r="4.10" fill="#fff" stroke="#ff0000" stroke-width="1.50"/>
<circle cx="1766.80" cy="170.80" r="4.10" fill="#fff" stroke="#ff0000" stroke-width="1.50"/>
<line x1="1487.00" y1="77.30" x2="1558.70" y2="77.30" stroke="#0038ff" stroke-width="2.80"/>
<polygon points="1517.85,81.50 1527.85,81.50 1522.85,73.10" fill="#fff" stroke="#0038ff" stroke-width="1.70" stroke-linejoin="miter"/>
<text x="1565.06" y="83.10" font-size="16.80">LM fixed (Vis ~3.5x)</text>
<line x1="1487.00" y1="96.00" x2="1558.70" y2="96.00" stroke="#0038ff" stroke-width="2.80" stroke-dasharray="9.4 9.6"/>
<circle cx="1522.85" cy="96.00" r="4.00" fill="#fff" stroke="#0038ff" stroke-width="1.80"/>
<text x="1565.06" y="101.80" font-size="16.80">LM variable</text>
<line x1="1487.00" y1="114.60" x2="1558.70" y2="114.60" stroke="#ff0000" stroke-width="2.80"/>
<polygon points="1517.85,118.80 1527.85,118.80 1522.85,110.40" fill="#fff" stroke="#ff0000" stroke-width="1.70" stroke-linejoin="miter"/>
<text x="1565.56" y="120.40" font-size="16.80">CM fixed (Vis ~3.5x)</text>
<line x1="1487.00" y1="133.70" x2="1558.70" y2="133.70" stroke="#ff0000" stroke-width="2.80" stroke-dasharray="9.4 9.6"/>
<circle cx="1522.85" cy="133.70" r="4.00" fill="#fff" stroke="#ff0000" stroke-width="1.80"/>
<text x="1565.56" y="139.50" font-size="16.80">CM variable</text>
<text x="1409.41" y="375.80" font-size="18.90">Vis ~2x</text>
<text x="1564.73" y="375.80" font-size="18.90">Vis ~3.5x</text>
<text x="1735.81" y="375.80" font-size="18.90">Vis ~7x</text>
<text x="1567.60" y="393.80" font-size="18.90">(~Equal)</text>
<text x="1511.60" y="415.50" font-size="19.10">Variable visibility level</text>
<polyline points="1343.30,455.90 1343.30,778.40 1847.70,778.40" fill="none" stroke="#000" stroke-width="2.30" stroke-linejoin="miter" stroke-linecap="square"/>
<line x1="1328.30" y1="770.10" x2="1343.30" y2="770.10" stroke="#000" stroke-width="2.30"/>
<text x="1309.87" y="776.94" font-size="19.10">0</text>
<line x1="1328.30" y1="728.12" x2="1343.30" y2="728.12" stroke="#000" stroke-width="2.30"/>
<text x="1310.06" y="734.96" font-size="19.10">2</text>
<line x1="1328.30" y1="686.14" x2="1343.30" y2="686.14" stroke="#000" stroke-width="2.30"/>
<text x="1309.68" y="692.98" font-size="19.10">4</text>
<line x1="1328.30" y1="644.16" x2="1343.30" y2="644.16" stroke="#000" stroke-width="2.30"/>
<text x="1309.96" y="651.00" font-size="19.10">6</text>
<line x1="1328.30" y1="602.18" x2="1343.30" y2="602.18" stroke="#000" stroke-width="2.30"/>
<text x="1309.96" y="609.02" font-size="19.10">8</text>
<line x1="1328.30" y1="560.20" x2="1343.30" y2="560.20" stroke="#000" stroke-width="2.30"/>
<text x="1299.25" y="567.04" font-size="19.10">10</text>
<line x1="1328.30" y1="518.22" x2="1343.30" y2="518.22" stroke="#000" stroke-width="2.30"/>
<text x="1299.44" y="525.06" font-size="19.10">12</text>
<line x1="1328.30" y1="476.24" x2="1343.30" y2="476.24" stroke="#000" stroke-width="2.30"/>
<text x="1299.05" y="483.08" font-size="19.10">14</text>
<text transform="translate(1288.50 613.70) rotate(-90)" x="-120.07" y="0" font-size="19.10">Mean exclusivity duration [s]</text>
<text x="1496.05" y="460.40" font-size="19.10">CM vs. CM and LM vs. LM:</text>
<text x="1443.80" y="482.00" font-size="19.10">Actual results concerning Levelt's 2nd law</text>
<text x="1358.68" y="509.40" font-size="21.50">J)</text>
<line x1="1434.60" y1="591.10" x2="1434.60" y2="665.40" stroke="#ff0000" stroke-width="2.20"/>
<line x1="1429.35" y1="591.10" x2="1439.85" y2="591.10" stroke="#ff0000" stroke-width="2.40"/>
<line x1="1429.35" y1="665.40" x2="1439.85" y2="665.40" stroke="#ff0000" stroke-width="2.40"/>
<line x1="1600.00" y1="735.20" x2="1600.00" y2="743.20" stroke="#ff0000" stroke-width="2.20"/>
<line x1="1594.75" y1="735.20" x2="1605.25" y2="735.20" stroke="#ff0000" stroke-width="2.40"/>
<line x1="1594.75" y1="743.20" x2="1605.25" y2="743.20" stroke="#ff0000" stroke-width="2.40"/>
<line x1="1765.40" y1="755.00" x2="1765.40" y2="760.00" stroke="#ff0000" stroke-width="2.20"/>
<line x1="1760.15" y1="755.00" x2="1770.65" y2="755.00" stroke="#ff0000" stroke-width="2.40"/>
<line x1="1760.15" y1="760.00" x2="1770.65" y2="760.00" stroke="#ff0000" stroke-width="2.40"/>
<polyline points="1434.60,629.00 1600.00,737.50 1765.40,757.60" fill="none" stroke="#ff0000" stroke-width="2.80"/>
<polygon points="1429.60,633.20 1439.60,633.20 1434.60,624.80" fill="#fff" stroke="#ff0000" stroke-width="1.50" stroke-linejoin="miter"/>
<polygon points="1595.00,741.70 1605.00,741.70 1600.00,733.30" fill="#fff" stroke="#ff0000" stroke-width="1.50" stroke-linejoin="miter"/>
<polygon points="1760.40,761.80 1770.40,761.80 1765.40,753.40" fill="#fff" stroke="#ff0000" stroke-width="1.50" stroke-linejoin="miter"/>
<line x1="1434.60" y1="751.00" x2="1434.60" y2="760.10" stroke="#ff0000" stroke-width="2.20"/>
<line x1="1429.35" y1="751.00" x2="1439.85" y2="751.00" stroke="#ff0000" stroke-width="2.40"/>
<line x1="1429.35" y1="760.10" x2="1439.85" y2="760.10" stroke="#ff0000" stroke-width="2.40"/>
<line x1="1600.00" y1="729.00" x2="1600.00" y2="738.00" stroke="#ff0000" stroke-width="2.20"/>
<line x1="1594.75" y1="729.00" x2="1605.25" y2="729.00" stroke="#ff0000" stroke-width="2.40"/>
<line x1="1594.75" y1="738.00" x2="1605.25" y2="738.00" stroke="#ff0000" stroke-width="2.40"/>
<line x1="1765.40" y1="507.40" x2="1765.40" y2="635.70" stroke="#ff0000" stroke-width="2.20"/>
<line x1="1760.15" y1="507.40" x2="1770.65" y2="507.40" stroke="#ff0000" stroke-width="2.40"/>
<line x1="1760.15" y1="635.70" x2="1770.65" y2="635.70" stroke="#ff0000" stroke-width="2.40"/>
<polyline points="1434.60,756.00 1600.00,733.50 1765.40,571.70" fill="none" stroke="#ff0000" stroke-width="2.80" stroke-dasharray="9.4 9.6"/>
<circle cx="1434.60" cy="756.00" r="4.10" fill="#fff" stroke="#ff0000" stroke-width="1.50"/>
<circle cx="1600.00" cy="733.50" r="4.10" fill="#fff" stroke="#ff0000" stroke-width="1.50"/>
<circle cx="1765.40" cy="571.70" r="4.10" fill="#fff" stroke="#ff0000" stroke-width="1.50"/>
<line x1="1434.60" y1="563.40" x2="1434.60" y2="638.20" stroke="#0038ff" stroke-width="2.20"/>
<line x1="1429.35" y1="563.40" x2="1439.85" y2="563.40" stroke="#0038ff" stroke-width="2.40"/>
<line x1="1429.35" y1="638.20" x2="1439.85" y2="638.20" stroke="#0038ff" stroke-width="2.40"/>
<line x1="1600.00" y1="713.90" x2="1600.00" y2="732.40" stroke="#0038ff" stroke-width="2.20"/>
<line x1="1594.75" y1="713.90" x2="1605.25" y2="713.90" stroke="#0038ff" stroke-width="2.40"/>
<line x1="1594.75" y1="732.40" x2="1605.25" y2="732.40" stroke="#0038ff" stroke-width="2.40"/>
<line x1="1765.40" y1="736.00" x2="1765.40" y2="748.50" stroke="#0038ff" stroke-width="2.20"/>
<line x1="1760.15" y1="736.00" x2="1770.65" y2="736.00" stroke="#0038ff" stroke-width="2.40"/>
<line x1="1760.15" y1="748.50" x2="1770.65" y2="748.50" stroke="#0038ff" stroke-width="2.40"/>
<polyline points="1434.60,600.80 1600.00,723.00 1765.40,742.70" fill="none" stroke="#0038ff" stroke-width="2.80"/>
<polygon points="1429.60,605.00 1439.60,605.00 1434.60,596.60" fill="#fff" stroke="#0038ff" stroke-width="1.50" stroke-linejoin="miter"/>
<polygon points="1595.00,727.20 1605.00,727.20 1600.00,718.80" fill="#fff" stroke="#0038ff" stroke-width="1.50" stroke-linejoin="miter"/>
<polygon points="1760.40,746.90 1770.40,746.90 1765.40,738.50" fill="#fff" stroke="#0038ff" stroke-width="1.50" stroke-linejoin="miter"/>
<line x1="1434.60" y1="740.70" x2="1434.60" y2="748.50" stroke="#0038ff" stroke-width="2.20"/>
<line x1="1429.35" y1="740.70" x2="1439.85" y2="740.70" stroke="#0038ff" stroke-width="2.40"/>
<line x1="1429.35" y1="748.50" x2="1439.85" y2="748.50" stroke="#0038ff" stroke-width="2.40"/>
<line x1="1600.00" y1="717.40" x2="1600.00" y2="727.90" stroke="#0038ff" stroke-width="2.20"/>
<line x1="1594.75" y1="717.40" x2="1605.25" y2="717.40" stroke="#0038ff" stroke-width="2.40"/>
<line x1="1594.75" y1="727.90" x2="1605.25" y2="727.90" stroke="#0038ff" stroke-width="2.40"/>
<line x1="1765.40" y1="630.70" x2="1765.40" y2="669.20" stroke="#0038ff" stroke-width="2.20"/>
<line x1="1760.15" y1="630.70" x2="1770.65" y2="630.70" stroke="#0038ff" stroke-width="2.40"/>
<line x1="1760.15" y1="669.20" x2="1770.65" y2="669.20" stroke="#0038ff" stroke-width="2.40"/>
<polyline points="1434.60,743.50 1600.00,722.00 1765.40,650.00" fill="none" stroke="#0038ff" stroke-width="2.80" stroke-dasharray="9.4 9.6"/>
<circle cx="1434.60" cy="743.50" r="4.10" fill="#fff" stroke="#0038ff" stroke-width="1.50"/>
<circle cx="1600.00" cy="722.00" r="4.10" fill="#fff" stroke="#0038ff" stroke-width="1.50"/>
<circle cx="1765.40" cy="650.00" r="4.10" fill="#fff" stroke="#0038ff" stroke-width="1.50"/>
<line x1="1463.40" y1="531.80" x2="1534.80" y2="531.80" stroke="#ff0000" stroke-width="2.80"/>
<polygon points="1494.10,536.00 1504.10,536.00 1499.10,527.60" fill="#fff" stroke="#ff0000" stroke-width="1.70" stroke-linejoin="miter"/>
<text x="1541.76" y="537.60" font-size="16.80">CM fixed (Vis ~3.5x)</text>
<line x1="1463.40" y1="550.90" x2="1534.80" y2="550.90" stroke="#ff0000" stroke-width="2.80" stroke-dasharray="9.4 9.6"/>
<circle cx="1499.10" cy="550.90" r="4.00" fill="#fff" stroke="#ff0000" stroke-width="1.80"/>
<text x="1541.76" y="556.70" font-size="16.80">CM variable (Vis ~3.5x)</text>
<line x1="1463.40" y1="569.60" x2="1534.80" y2="569.60" stroke="#0038ff" stroke-width="2.80"/>
<polygon points="1494.10,573.80 1504.10,573.80 1499.10,565.40" fill="#fff" stroke="#0038ff" stroke-width="1.70" stroke-linejoin="miter"/>
<text x="1541.26" y="575.40" font-size="16.80">LM fixed (Vis ~3.5x)</text>
<line x1="1463.40" y1="588.70" x2="1534.80" y2="588.70" stroke="#0038ff" stroke-width="2.80" stroke-dasharray="9.4 9.6"/>
<circle cx="1499.10" cy="588.70" r="4.00" fill="#fff" stroke="#0038ff" stroke-width="1.80"/>
<text x="1541.26" y="594.50" font-size="16.80">LM variable (Vis ~3.5x)</text>
<text x="1403.61" y="805.00" font-size="18.90">Vis ~2x</text>
<text x="1561.13" y="805.00" font-size="18.90">Vis ~3.5x</text>
<text x="1734.41" y="805.00" font-size="18.90">Vis ~7x</text>
<text x="1564.00" y="823.00" font-size="18.90">(~Equal)</text>
<text x="1516.00" y="847.40" font-size="19.10">Variable visibility level</text>
<text transform="translate(663.80 1047.60) rotate(-90)" x="-84.29" y="0" font-size="19.10">Numbers of full flips</text>
<text x="944.61" y="889.60" font-size="19.10">LM vs. CM:</text>
<text x="818.70" y="911.00" font-size="19.10">Actual results concerning Levelt's 3rd law</text>
<text x="723.32" y="940.00" font-size="21.50">G)</text>
<rect x="725.20" y="1175.70" width="90.70" height="30.10" fill="#0038ff"/>
<rect x="732.50" y="1183.00" width="76.10" height="16.00" fill="url(#pr)"/>
<rect x="825.30" y="1151.00" width="91.00" height="54.80" fill="#0038ff"/>
<rect x="832.60" y="1158.30" width="76.40" height="40.70" fill="url(#pr)"/>
<rect x="926.20" y="1096.10" width="90.80" height="109.70" fill="#0038ff"/>
<rect x="933.50" y="1103.40" width="76.20" height="95.60" fill="url(#pr)"/>
<rect x="1027.20" y="1041.90" width="90.70" height="163.90" fill="#0038ff"/>
<rect x="1034.50" y="1049.20" width="76.10" height="149.80" fill="url(#pr)"/>
<rect x="1127.70" y="1025.50" width="90.90" height="180.30" fill="#0038ff"/>
<rect x="1135.00" y="1032.80" width="76.30" height="166.20" fill="url(#pr)"/>
<line x1="770.55" y1="1160.90" x2="770.55" y2="1197.70" stroke="#ff0000" stroke-width="2.40"/>
<line x1="765.55" y1="1160.90" x2="775.55" y2="1160.90" stroke="#ff0000" stroke-width="2.60"/>
<line x1="870.80" y1="1133.00" x2="870.80" y2="1176.20" stroke="#ff0000" stroke-width="2.40"/>
<line x1="865.80" y1="1133.00" x2="875.80" y2="1133.00" stroke="#ff0000" stroke-width="2.60"/>
<line x1="971.60" y1="1054.50" x2="971.60" y2="1144.90" stroke="#ff0000" stroke-width="2.40"/>
<line x1="966.60" y1="1054.50" x2="976.60" y2="1054.50" stroke="#ff0000" stroke-width="2.60"/>
<line x1="1072.55" y1="977.10" x2="1072.55" y2="1113.90" stroke="#ff0000" stroke-width="2.40"/>
<line x1="1067.55" y1="977.10" x2="1077.55" y2="977.10" stroke="#ff0000" stroke-width="2.60"/>
<line x1="1173.15" y1="969.20" x2="1173.15" y2="1089.00" stroke="#ff0000" stroke-width="2.40"/>
<line x1="1168.15" y1="969.20" x2="1178.15" y2="969.20" stroke="#ff0000" stroke-width="2.60"/>
<polyline points="715.90,883.08 715.90,1208.80 1223.20,1208.80" fill="none" stroke="#000" stroke-width="2.30" stroke-linejoin="miter" stroke-linecap="square"/>
<line x1="700.90" y1="1205.50" x2="715.90" y2="1205.50" stroke="#000" stroke-width="2.30"/>
<text x="682.47" y="1212.34" font-size="19.10">0</text>
<line x1="700.90" y1="1159.44" x2="715.90" y2="1159.44" stroke="#000" stroke-width="2.30"/>
<text x="682.66" y="1166.28" font-size="19.10">1</text>
<line x1="700.90" y1="1113.38" x2="715.90" y2="1113.38" stroke="#000" stroke-width="2.30"/>
<text x="682.66" y="1120.22" font-size="19.10">2</text>
<line x1="700.90" y1="1067.32" x2="715.90" y2="1067.32" stroke="#000" stroke-width="2.30"/>
<text x="682.56" y="1074.16" font-size="19.10">3</text>
<line x1="700.90" y1="1021.26" x2="715.90" y2="1021.26" stroke="#000" stroke-width="2.30"/>
<text x="682.28" y="1028.10" font-size="19.10">4</text>
<line x1="700.90" y1="975.20" x2="715.90" y2="975.20" stroke="#000" stroke-width="2.30"/>
<text x="682.56" y="982.04" font-size="19.10">5</text>
<line x1="700.90" y1="929.14" x2="715.90" y2="929.14" stroke="#000" stroke-width="2.30"/>
<text x="682.56" y="935.98" font-size="19.10">6</text>
<line x1="700.90" y1="883.08" x2="715.90" y2="883.08" stroke="#000" stroke-width="2.30"/>
<text x="682.66" y="889.92" font-size="19.10">7</text>
<text x="739.16" y="1002.00" font-size="16.80">CM: Vis ~7x (fixed)</text>
<text x="739.56" y="1236.70" font-size="18.90">Vis ~2x</text>
<text x="839.81" y="1236.70" font-size="18.90">Vis ~5x</text>
<text x="936.06" y="1236.70" font-size="18.90">Vis ~11x</text>
<text x="1036.31" y="1236.70" font-size="18.90">Vis ~22x</text>
<text x="1136.91" y="1236.70" font-size="18.90">Vis ~43x</text>
<text x="834.80" y="1253.90" font-size="18.90">(~Equal)</text>
<text x="912.77" y="1277.70" font-size="19.10">LM visibility level</text>
<text transform="translate(1288.50 1043.00) rotate(-90)" x="-84.29" y="0" font-size="19.10">Numbers of full flips</text>
<text x="1499.64" y="890.00" font-size="19.10">CM vs. CM and LM vs. LM:</text>
<text x="1447.90" y="910.80" font-size="19.10">Actual results concerning Levelt's 3rd law</text>
<text x="1353.98" y="940.70" font-size="21.50">K)</text>
<rect x="1357.20" y="1179.20" width="48.70" height="25.40" fill="url(#pr)" stroke="#ff0000" stroke-width="2.00"/>
<rect x="1483.30" y="1167.20" width="48.70" height="37.40" fill="url(#pr)" stroke="#ff0000" stroke-width="2.00"/>
<rect x="1609.10" y="1181.30" width="48.50" height="23.30" fill="url(#pr)" stroke="#ff0000" stroke-width="2.00"/>
<rect x="1420.05" y="1157.75" width="47.50" height="46.70" fill="url(#pb)" stroke="#0038ff" stroke-width="2.30"/>
<rect x="1545.95" y="1114.55" width="47.50" height="89.90" fill="url(#pb)" stroke="#0038ff" stroke-width="2.30"/>
<rect x="1671.85" y="1073.85" width="47.60" height="130.60" fill="url(#pb)" stroke="#0038ff" stroke-width="2.30"/>
<rect x="1797.65" y="1172.65" width="47.50" height="31.80" fill="url(#pb)" stroke="#0038ff" stroke-width="2.30"/>
<line x1="1381.55" y1="1164.90" x2="1381.55" y2="1193.50" stroke="#ff0000" stroke-width="2.40"/>
<line x1="1376.55" y1="1164.90" x2="1386.55" y2="1164.90" stroke="#ff0000" stroke-width="2.60"/>
<line x1="1507.65" y1="1140.00" x2="1507.65" y2="1194.40" stroke="#ff0000" stroke-width="2.40"/>
<line x1="1502.65" y1="1140.00" x2="1512.65" y2="1140.00" stroke="#ff0000" stroke-width="2.60"/>
<line x1="1633.35" y1="1172.00" x2="1633.35" y2="1190.60" stroke="#ff0000" stroke-width="2.40"/>
<line x1="1628.35" y1="1172.00" x2="1638.35" y2="1172.00" stroke="#ff0000" stroke-width="2.60"/>
<line x1="1443.80" y1="1140.80" x2="1443.80" y2="1170.40" stroke="#0038ff" stroke-width="2.40"/>
<line x1="1438.80" y1="1140.80" x2="1448.80" y2="1140.80" stroke="#0038ff" stroke-width="2.60"/>
<line x1="1438.80" y1="1170.40" x2="1448.80" y2="1170.40" stroke="#0038ff" stroke-width="2.60"/>
<line x1="1569.70" y1="1079.30" x2="1569.70" y2="1145.40" stroke="#0038ff" stroke-width="2.40"/>
<line x1="1564.70" y1="1079.30" x2="1574.70" y2="1079.30" stroke="#0038ff" stroke-width="2.60"/>
<line x1="1564.70" y1="1145.40" x2="1574.70" y2="1145.40" stroke="#0038ff" stroke-width="2.60"/>
<line x1="1695.65" y1="1027.50" x2="1695.65" y2="1116.20" stroke="#0038ff" stroke-width="2.40"/>
<line x1="1690.65" y1="1027.50" x2="1700.65" y2="1027.50" stroke="#0038ff" stroke-width="2.60"/>
<line x1="1690.65" y1="1116.20" x2="1700.65" y2="1116.20" stroke="#0038ff" stroke-width="2.60"/>
<line x1="1821.40" y1="1154.00" x2="1821.40" y2="1187.30" stroke="#0038ff" stroke-width="2.40"/>
<line x1="1816.40" y1="1154.00" x2="1826.40" y2="1154.00" stroke="#0038ff" stroke-width="2.60"/>
<line x1="1816.40" y1="1187.30" x2="1826.40" y2="1187.30" stroke="#0038ff" stroke-width="2.60"/>
<polyline points="1345.70,882.62 1345.70,1208.60 1853.50,1208.60" fill="none" stroke="#000" stroke-width="2.30" stroke-linejoin="miter" stroke-linecap="square"/>
<line x1="1330.70" y1="1205.60" x2="1345.70" y2="1205.60" stroke="#000" stroke-width="2.30"/>
<text x="1312.27" y="1212.44" font-size="19.10">0</text>
<line x1="1330.70" y1="1159.46" x2="1345.70" y2="1159.46" stroke="#000" stroke-width="2.30"/>
<text x="1312.46" y="1166.30" font-size="19.10">1</text>
<line x1="1330.70" y1="1113.32" x2="1345.70" y2="1113.32" stroke="#000" stroke-width="2.30"/>
<text x="1312.46" y="1120.16" font-size="19.10">2</text>
<line x1="1330.70" y1="1067.18" x2="1345.70" y2="1067.18" stroke="#000" stroke-width="2.30"/>
<text x="1312.36" y="1074.02" font-size="19.10">3</text>
<line x1="1330.70" y1="1021.04" x2="1345.70" y2="1021.04" stroke="#000" stroke-width="2.30"/>
<text x="1312.08" y="1027.88" font-size="19.10">4</text>
<line x1="1330.70" y1="974.90" x2="1345.70" y2="974.90" stroke="#000" stroke-width="2.30"/>
<text x="1312.36" y="981.74" font-size="19.10">5</text>
<line x1="1330.70" y1="928.76" x2="1345.70" y2="928.76" stroke="#000" stroke-width="2.30"/>
<text x="1312.36" y="935.60" font-size="19.10">6</text>
<line x1="1330.70" y1="882.62" x2="1345.70" y2="882.62" stroke="#000" stroke-width="2.30"/>
<text x="1312.46" y="889.46" font-size="19.10">7</text>
<line x1="1349.00" y1="1208.60" x2="1349.00" y2="1224.70" stroke="#000" stroke-width="2.30"/>
<line x1="1475.30" y1="1208.60" x2="1475.30" y2="1224.70" stroke="#000" stroke-width="2.30"/>
<line x1="1601.30" y1="1208.60" x2="1601.30" y2="1224.70" stroke="#000" stroke-width="2.30"/>
<line x1="1727.20" y1="1208.60" x2="1727.20" y2="1224.70" stroke="#000" stroke-width="2.30"/>
<line x1="1852.60" y1="1208.60" x2="1852.60" y2="1224.70" stroke="#000" stroke-width="2.30"/>
<text x="1378.96" y="996.40" font-size="16.80">CM: Vis ~3.5x (fixed)</text>
<text x="1378.46" y="1015.50" font-size="16.80">LM: Vis ~3.5x (fixed)</text>
<rect x="1750.25" y="937.35" width="34.30" height="8.90" fill="url(#pr)" stroke="#ff0000" stroke-width="2.30"/>
<rect x="1750.25" y="956.35" width="34.30" height="8.50" fill="url(#pb)" stroke="#0038ff" stroke-width="2.30"/>
<text x="1809.42" y="947.70" font-size="17.60">CM</text>
<text x="1808.89" y="966.50" font-size="17.60">LM</text>
<text x="1382.01" y="1236.30" font-size="18.90">Vis ~2x</text>
<text x="1499.63" y="1236.30" font-size="18.90">Vis ~3.5x</text>
<text x="1633.61" y="1236.30" font-size="18.90">Vis ~7x</text>
<text x="1753.76" y="1236.30" font-size="18.90">Vis ~43x</text>
<text x="1500.80" y="1259.60" font-size="18.90">(~Equal)</text>
<text x="1753.08" y="1259.60" font-size="18.90">(LM max)</text>
<text x="1534.30" y="1277.80" font-size="19.10">Variable visibility level</text>
<text transform="translate(664.00 1480.40) rotate(-90)" x="-84.29" y="0" font-size="19.10">Numbers of full flips</text>
<text x="941.31" y="1321.30" font-size="19.10">LM vs. CM:</text>
<text x="813.76" y="1342.60" font-size="19.10">Actual results concerning Levelt's 4th law</text>
<text x="716.88" y="1371.30" font-size="21.50">H)</text>
<rect x="721.40" y="1600.50" width="153.10" height="39.50" fill="#0038ff"/>
<rect x="728.70" y="1607.80" width="138.50" height="32.20" fill="url(#pr)"/>
<rect x="891.70" y="1592.60" width="153.00" height="47.40" fill="#0038ff"/>
<rect x="899.00" y="1599.90" width="138.40" height="40.10" fill="url(#pr)"/>
<rect x="1061.60" y="1557.00" width="153.40" height="83.00" fill="#0038ff"/>
<rect x="1068.90" y="1564.30" width="138.80" height="75.70" fill="url(#pr)"/>
<line x1="797.95" y1="1571.30" x2="797.95" y2="1644.00" stroke="#ff0000" stroke-width="2.40"/>
<line x1="792.95" y1="1571.30" x2="802.95" y2="1571.30" stroke="#ff0000" stroke-width="2.60"/>
<line x1="968.20" y1="1562.20" x2="968.20" y2="1644.00" stroke="#ff0000" stroke-width="2.40"/>
<line x1="963.20" y1="1562.20" x2="973.20" y2="1562.20" stroke="#ff0000" stroke-width="2.60"/>
<line x1="1138.30" y1="1525.00" x2="1138.30" y2="1644.00" stroke="#ff0000" stroke-width="2.40"/>
<line x1="1133.30" y1="1525.00" x2="1143.30" y2="1525.00" stroke="#ff0000" stroke-width="2.60"/>
<polyline points="709.30,1315.39 709.30,1642.60 1223.20,1642.60" fill="none" stroke="#000" stroke-width="2.30" stroke-linejoin="miter" stroke-linecap="square"/>
<line x1="693.30" y1="1639.40" x2="709.30" y2="1639.40" stroke="#000" stroke-width="2.30"/>
<text x="665.63" y="1646.74" font-size="19.10">0.1</text>
<line x1="693.30" y1="1508.60" x2="709.30" y2="1508.60" stroke="#000" stroke-width="2.30"/>
<text x="681.56" y="1515.94" font-size="19.10">1</text>
<line x1="693.30" y1="1377.80" x2="709.30" y2="1377.80" stroke="#000" stroke-width="2.30"/>
<text x="670.75" y="1385.14" font-size="19.10">10</text>
<line x1="700.60" y1="1600.03" x2="709.30" y2="1600.03" stroke="#000" stroke-width="2.10"/>
<text x="691.98" y="1604.62" font-size="12.00">2</text>
<line x1="700.60" y1="1576.99" x2="709.30" y2="1576.99" stroke="#000" stroke-width="2.10"/>
<line x1="700.60" y1="1560.65" x2="709.30" y2="1560.65" stroke="#000" stroke-width="2.10"/>
<text x="691.74" y="1565.25" font-size="12.00">4</text>
<line x1="700.60" y1="1547.97" x2="709.30" y2="1547.97" stroke="#000" stroke-width="2.10"/>
<line x1="700.60" y1="1537.62" x2="709.30" y2="1537.62" stroke="#000" stroke-width="2.10"/>
<text x="691.92" y="1542.21" font-size="12.00">6</text>
<line x1="700.60" y1="1528.86" x2="709.30" y2="1528.86" stroke="#000" stroke-width="2.10"/>
<line x1="700.60" y1="1521.28" x2="709.30" y2="1521.28" stroke="#000" stroke-width="2.10"/>
<text x="691.92" y="1525.87" font-size="12.00">8</text>
<line x1="700.60" y1="1514.59" x2="709.30" y2="1514.59" stroke="#000" stroke-width="2.10"/>
<line x1="700.60" y1="1469.23" x2="709.30" y2="1469.23" stroke="#000" stroke-width="2.10"/>
<text x="691.98" y="1473.82" font-size="12.00">2</text>
<line x1="700.60" y1="1446.19" x2="709.30" y2="1446.19" stroke="#000" stroke-width="2.10"/>
<line x1="700.60" y1="1429.85" x2="709.30" y2="1429.85" stroke="#000" stroke-width="2.10"/>
<text x="691.74" y="1434.45" font-size="12.00">4</text>
<line x1="700.60" y1="1417.17" x2="709.30" y2="1417.17" stroke="#000" stroke-width="2.10"/>
<line x1="700.60" y1="1406.82" x2="709.30" y2="1406.82" stroke="#000" stroke-width="2.10"/>
<text x="691.92" y="1411.41" font-size="12.00">6</text>
<line x1="700.60" y1="1398.06" x2="709.30" y2="1398.06" stroke="#000" stroke-width="2.10"/>
<line x1="700.60" y1="1390.48" x2="709.30" y2="1390.48" stroke="#000" stroke-width="2.10"/>
<text x="691.92" y="1395.07" font-size="12.00">8</text>
<line x1="700.60" y1="1383.79" x2="709.30" y2="1383.79" stroke="#000" stroke-width="2.10"/>
<line x1="700.60" y1="1338.43" x2="709.30" y2="1338.43" stroke="#000" stroke-width="2.10"/>
<text x="691.98" y="1343.02" font-size="12.00">2</text>
<line x1="700.60" y1="1315.39" x2="709.30" y2="1315.39" stroke="#000" stroke-width="2.10"/>
<text x="759.08" y="1670.50" font-size="18.90">Vis ~3.5x</text>
<text x="937.21" y="1670.50" font-size="18.90">Vis ~5x</text>
<text x="1107.31" y="1670.50" font-size="18.90">Vis ~7x</text>
<text x="789.20" y="1714.00" font-size="19.10">Visibility levels for both LM and CM stimuli</text>
<text transform="translate(1288.60 1477.00) rotate(-90)" x="-84.29" y="0" font-size="19.10">Numbers of full flips</text>
<text x="1500.95" y="1320.90" font-size="19.10">CM vs. CM and LM vs. LM:</text>
<text x="1448.80" y="1342.50" font-size="19.10">Actual results concerning Levelt's 4th law</text>
<text x="1356.48" y="1371.60" font-size="21.50">L)</text>
<rect x="1360.80" y="1468.40" width="67.10" height="169.60" fill="url(#pb)"/>
<polyline points="1361.95,1638.00 1361.95,1469.55 1426.75,1469.55 1426.75,1638.00" fill="none" stroke="#0038ff" stroke-width="2.30" stroke-linejoin="miter"/>
<rect x="1528.00" y="1411.40" width="67.00" height="226.60" fill="url(#pb)"/>
<polyline points="1529.15,1638.00 1529.15,1412.55 1593.85,1412.55 1593.85,1638.00" fill="none" stroke="#0038ff" stroke-width="2.30" stroke-linejoin="miter"/>
<rect x="1695.30" y="1390.30" width="66.20" height="247.70" fill="url(#pb)"/>
<polyline points="1696.45,1638.00 1696.45,1391.45 1760.35,1391.45 1760.35,1638.00" fill="none" stroke="#0038ff" stroke-width="2.30" stroke-linejoin="miter"/>
<rect x="1443.50" y="1516.50" width="67.10" height="121.50" fill="url(#pr)"/>
<polyline points="1444.50,1638.00 1444.50,1517.50 1509.60,1517.50 1509.60,1638.00" fill="none" stroke="#ff0000" stroke-width="2.00" stroke-linejoin="miter"/>
<rect x="1610.10" y="1577.40" width="67.50" height="60.60" fill="url(#pr)"/>
<polyline points="1611.10,1638.00 1611.10,1578.40 1676.60,1578.40 1676.60,1638.00" fill="none" stroke="#ff0000" stroke-width="2.00" stroke-linejoin="miter"/>
<line x1="1394.35" y1="1450.50" x2="1394.35" y2="1492.00" stroke="#0038ff" stroke-width="2.40"/>
<line x1="1389.35" y1="1450.50" x2="1399.35" y2="1450.50" stroke="#0038ff" stroke-width="2.60"/>
<line x1="1389.35" y1="1492.00" x2="1399.35" y2="1492.00" stroke="#0038ff" stroke-width="2.60"/>
<line x1="1561.50" y1="1392.30" x2="1561.50" y2="1434.70" stroke="#0038ff" stroke-width="2.40"/>
<line x1="1556.50" y1="1392.30" x2="1566.50" y2="1392.30" stroke="#0038ff" stroke-width="2.60"/>
<line x1="1556.50" y1="1434.70" x2="1566.50" y2="1434.70" stroke="#0038ff" stroke-width="2.60"/>
<line x1="1728.40" y1="1374.00" x2="1728.40" y2="1410.30" stroke="#0038ff" stroke-width="2.40"/>
<line x1="1723.40" y1="1374.00" x2="1733.40" y2="1374.00" stroke="#0038ff" stroke-width="2.60"/>
<line x1="1723.40" y1="1410.30" x2="1733.40" y2="1410.30" stroke="#0038ff" stroke-width="2.60"/>
<line x1="1477.05" y1="1487.90" x2="1477.05" y2="1577.00" stroke="#ff0000" stroke-width="2.40"/>
<line x1="1472.05" y1="1487.90" x2="1482.05" y2="1487.90" stroke="#ff0000" stroke-width="2.60"/>
<line x1="1643.85" y1="1555.80" x2="1643.85" y2="1620.00" stroke="#ff0000" stroke-width="2.40"/>
<line x1="1638.85" y1="1555.80" x2="1648.85" y2="1555.80" stroke="#ff0000" stroke-width="2.60"/>
<polyline points="1348.20,1314.97 1348.20,1640.50 1852.60,1640.50" fill="none" stroke="#000" stroke-width="2.30" stroke-linejoin="miter" stroke-linecap="square"/>
<line x1="1332.20" y1="1637.00" x2="1348.20" y2="1637.00" stroke="#000" stroke-width="2.30"/>
<text x="1304.53" y="1644.34" font-size="19.10">0.1</text>
<line x1="1332.20" y1="1507.00" x2="1348.20" y2="1507.00" stroke="#000" stroke-width="2.30"/>
<text x="1320.46" y="1514.34" font-size="19.10">1</text>
<line x1="1332.20" y1="1377.00" x2="1348.20" y2="1377.00" stroke="#000" stroke-width="2.30"/>
<text x="1309.65" y="1384.34" font-size="19.10">10</text>
<line x1="1339.50" y1="1597.87" x2="1348.20" y2="1597.87" stroke="#000" stroke-width="2.10"/>
<text x="1330.88" y="1602.46" font-size="12.00">2</text>
<line x1="1339.50" y1="1574.97" x2="1348.20" y2="1574.97" stroke="#000" stroke-width="2.10"/>
<line x1="1339.50" y1="1558.73" x2="1348.20" y2="1558.73" stroke="#000" stroke-width="2.10"/>
<text x="1330.64" y="1563.33" font-size="12.00">4</text>
<line x1="1339.50" y1="1546.13" x2="1348.20" y2="1546.13" stroke="#000" stroke-width="2.10"/>
<line x1="1339.50" y1="1535.84" x2="1348.20" y2="1535.84" stroke="#000" stroke-width="2.10"/>
<text x="1330.82" y="1540.44" font-size="12.00">6</text>
<line x1="1339.50" y1="1527.14" x2="1348.20" y2="1527.14" stroke="#000" stroke-width="2.10"/>
<line x1="1339.50" y1="1519.60" x2="1348.20" y2="1519.60" stroke="#000" stroke-width="2.10"/>
<text x="1330.82" y="1524.19" font-size="12.00">8</text>
<line x1="1339.50" y1="1512.95" x2="1348.20" y2="1512.95" stroke="#000" stroke-width="2.10"/>
<line x1="1339.50" y1="1467.87" x2="1348.20" y2="1467.87" stroke="#000" stroke-width="2.10"/>
<text x="1330.88" y="1472.46" font-size="12.00">2</text>
<line x1="1339.50" y1="1444.97" x2="1348.20" y2="1444.97" stroke="#000" stroke-width="2.10"/>
<line x1="1339.50" y1="1428.73" x2="1348.20" y2="1428.73" stroke="#000" stroke-width="2.10"/>
<text x="1330.64" y="1433.33" font-size="12.00">4</text>
<line x1="1339.50" y1="1416.13" x2="1348.20" y2="1416.13" stroke="#000" stroke-width="2.10"/>
<line x1="1339.50" y1="1405.84" x2="1348.20" y2="1405.84" stroke="#000" stroke-width="2.10"/>
<text x="1330.82" y="1410.44" font-size="12.00">6</text>
<line x1="1339.50" y1="1397.14" x2="1348.20" y2="1397.14" stroke="#000" stroke-width="2.10"/>
<line x1="1339.50" y1="1389.60" x2="1348.20" y2="1389.60" stroke="#000" stroke-width="2.10"/>
<text x="1330.82" y="1394.19" font-size="12.00">8</text>
<line x1="1339.50" y1="1382.95" x2="1348.20" y2="1382.95" stroke="#000" stroke-width="2.10"/>
<line x1="1339.50" y1="1337.87" x2="1348.20" y2="1337.87" stroke="#000" stroke-width="2.10"/>
<text x="1330.88" y="1342.46" font-size="12.00">2</text>
<line x1="1339.50" y1="1314.97" x2="1348.20" y2="1314.97" stroke="#000" stroke-width="2.10"/>
<line x1="1351.60" y1="1640.20" x2="1351.60" y2="1656.00" stroke="#000" stroke-width="2.30"/>
<line x1="1519.60" y1="1640.20" x2="1519.60" y2="1656.00" stroke="#000" stroke-width="2.30"/>
<line x1="1685.70" y1="1640.20" x2="1685.70" y2="1653.00" stroke="#000" stroke-width="1.50"/>
<rect x="1791.85" y="1377.65" width="33.00" height="8.20" fill="url(#pr)" stroke="#ff0000" stroke-width="2.30"/>
<rect x="1791.85" y="1396.85" width="33.00" height="7.30" fill="url(#pb)" stroke="#0038ff" stroke-width="2.30"/>
<text x="1850.62" y="1387.30" font-size="17.60">CM</text>
<text x="1850.09" y="1406.50" font-size="17.60">LM</text>
<text x="1375.56" y="1666.00" font-size="18.90">CM: Vis ~3.5x</text>
<text x="1374.99" y="1687.60" font-size="18.90">LM: Vis ~3.5x</text>
<text x="1528.26" y="1666.00" font-size="18.90">CM: Vis ~7x (max)</text>
<text x="1527.69" y="1687.60" font-size="18.90">LM: Vis ~22x</text>
<text x="1703.60" y="1664.30" font-size="18.90">Vis ~43x</text>
<text x="1700.87" y="1686.00" font-size="18.90">(LM max)</text>
<text x="1434.10" y="1712.50" font-size="19.10">Visibility levels for both LM and CM stimuli</text>
<rect x="0.40" y="0.40" width="641.30" height="2.40" fill="#000"/>
<rect x="0.40" y="424.70" width="641.30" height="2.40" fill="#000"/>
<rect x="0.40" y="0.40" width="2.40" height="426.70" fill="#000"/>
<rect x="639.30" y="0.40" width="2.40" height="426.70" fill="#000"/>
<rect x="0.40" y="429.30" width="641.30" height="2.40" fill="#000"/>
<rect x="0.40" y="853.60" width="641.30" height="2.40" fill="#000"/>
<rect x="0.40" y="429.30" width="2.40" height="426.70" fill="#000"/>
<rect x="639.30" y="429.30" width="2.40" height="426.70" fill="#000"/>
<rect x="0.40" y="858.60" width="641.30" height="2.40" fill="#000"/>
<rect x="0.40" y="1285.25" width="641.30" height="2.40" fill="#000"/>
<rect x="0.40" y="858.60" width="2.40" height="429.05" fill="#000"/>
<rect x="639.30" y="858.60" width="2.40" height="429.05" fill="#000"/>
<rect x="0.40" y="1290.00" width="641.30" height="2.40" fill="#000"/>
<rect x="0.40" y="1718.60" width="641.30" height="2.40" fill="#000"/>
<rect x="0.40" y="1290.00" width="2.40" height="431.00" fill="#000"/>
<rect x="639.30" y="1290.00" width="2.40" height="431.00" fill="#000"/>
<rect x="644.00" y="0.40" width="622.30" height="2.40" fill="#000"/>
<rect x="644.00" y="424.70" width="622.30" height="2.40" fill="#000"/>
<rect x="644.00" y="0.40" width="2.40" height="426.70" fill="#000"/>
<rect x="1263.90" y="0.40" width="2.40" height="426.70" fill="#000"/>
<rect x="644.00" y="429.30" width="622.30" height="2.40" fill="#000"/>
<rect x="644.00" y="853.60" width="622.30" height="2.40" fill="#000"/>
<rect x="644.00" y="429.30" width="2.40" height="426.70" fill="#000"/>
<rect x="1263.90" y="429.30" width="2.40" height="426.70" fill="#000"/>
<rect x="644.00" y="858.60" width="622.30" height="2.40" fill="#000"/>
<rect x="644.00" y="1285.25" width="622.30" height="2.40" fill="#000"/>
<rect x="644.00" y="858.60" width="2.40" height="429.05" fill="#000"/>
<rect x="1263.90" y="858.60" width="2.40" height="429.05" fill="#000"/>
<rect x="644.00" y="1290.00" width="622.30" height="2.40" fill="#000"/>
<rect x="644.00" y="1718.60" width="622.30" height="2.40" fill="#000"/>
<rect x="644.00" y="1290.00" width="2.40" height="431.00" fill="#000"/>
<rect x="1263.90" y="1290.00" width="2.40" height="431.00" fill="#000"/>
<rect x="1268.35" y="0.40" width="626.65" height="2.40" fill="#000"/>
<rect x="1268.35" y="424.70" width="626.65" height="2.40" fill="#000"/>
<rect x="1268.35" y="0.40" width="2.40" height="426.70" fill="#000"/>
<rect x="1892.60" y="0.40" width="2.40" height="426.70" fill="#000"/>
<rect x="1268.35" y="429.30" width="626.65" height="2.40" fill="#000"/>
<rect x="1268.35" y="853.60" width="626.65" height="2.40" fill="#000"/>
<rect x="1268.35" y="429.30" width="2.40" height="426.70" fill="#000"/>
<rect x="1892.60" y="429.30" width="2.40" height="426.70" fill="#000"/>
<rect x="1268.35" y="858.60" width="626.65" height="2.40" fill="#000"/>
<rect x="1268.35" y="1285.25" width="626.65" height="2.40" fill="#000"/>
<rect x="1268.35" y="858.60" width="2.40" height="429.05" fill="#000"/>
<rect x="1892.60" y="858.60" width="2.40" height="429.05" fill="#000"/>
<rect x="1268.35" y="1290.00" width="626.65" height="2.40" fill="#000"/>
<rect x="1268.35" y="1718.60" width="626.65" height="2.40" fill="#000"/>
<rect x="1268.35" y="1290.00" width="2.40" height="431.00" fill="#000"/>
<rect x="1892.60" y="1290.00" width="2.40" height="431.00" fill="#000"/>
<rect x="0.00" y="0.00" width="1896.00" height="0.60" fill="#444"/>
<rect x="0.00" y="0.00" width="0.60" height="1722.00" fill="#444"/>
<rect x="1895.00" y="0.00" width="1.00" height="1722.00" fill="#444"/>
<rect x="0.00" y="1721.00" width="1896.00" height="1.00" fill="#444"/></svg>
</body></html>
